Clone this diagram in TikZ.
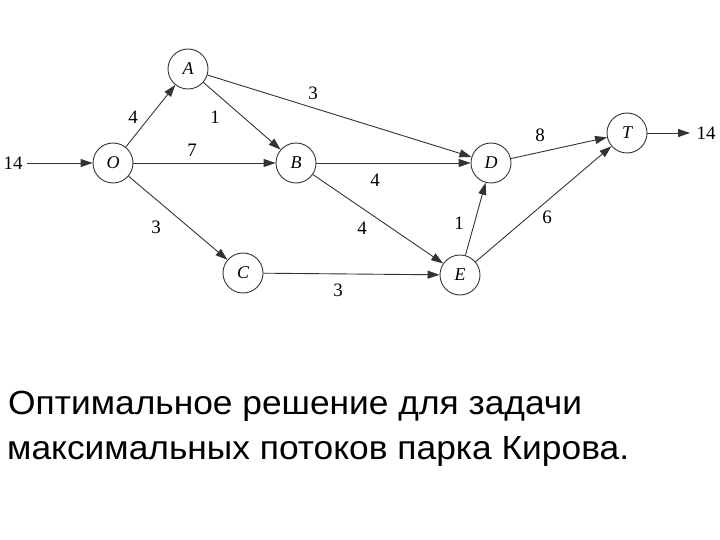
\documentclass[tikz,border=0pt]{standalone}
\usepackage{fontspec}
\setmainfont{Liberation Serif}
\newfontfamily\captionfont[FakeStretch=1.055]{Liberation Sans}
\usetikzlibrary{arrows.meta}
\begin{document}
\begin{tikzpicture}[x=1pt,y=-1pt,
  vertex/.style={circle,draw=black!80,line width=0.9pt,minimum size=40pt,inner sep=0pt,font=\fontsize{18}{18}\selectfont\itshape},
  edge/.style={draw=black!80,line width=0.9pt,-{Triangle[length=12pt,width=8pt]}},
  lab/.style={font=\fontsize{19}{19}\selectfont,inner sep=0pt},
  captext/.style={font=\captionfont\fontsize{33.5}{35}\selectfont,inner sep=0pt,anchor=base west}]
\useasboundingbox (0,0) rectangle (720,540);
\node[vertex] (O) at (113,163) {O};
\node[vertex] (A) at (188,69) {A};
\node[vertex] (B) at (296,163) {B};
\node[vertex] (C) at (243,273) {C};
\node[vertex] (D) at (491,163) {D};
\node[vertex] (E) at (460,275) {E};
\node[vertex] (T) at (627,133) {T};
\node[lab] (in) at (13,163) {14};
\node[lab] (out) at (706,133) {14};
\coordinate (inS) at (27,163);
\coordinate (outE) at (690,133);
\draw[edge] (inS) -- (O);
\draw[edge] (T) -- (outE);
\draw[edge] (O) -- (A);
\draw[edge] (O) -- (B);
\draw[edge] (O) -- (C);
\draw[edge] (A) -- (B);
\draw[edge] (A) -- (D);
\draw[edge] (B) -- (D);
\draw[edge] (B) -- (E);
\draw[edge] (C) -- (E);
\draw[edge] (E) -- (D);
\draw[edge] (E) -- (T);
\draw[edge] (D) -- (T);
\node[lab] (l1) at (133,117) {4};
\node[lab] (l2) at (215,117) {1};
\node[lab] (l3) at (313,93) {3};
\node[lab] (l4) at (192,150) {7};
\node[lab] (l5) at (156,227) {3};
\node[lab] (l6) at (375,180) {4};
\node[lab] (l7) at (362,228) {4};
\node[lab] (l8) at (459,223) {1};
\node[lab] (l9) at (547,217) {6};
\node[lab] (l10) at (540,135) {8};
\node[lab] (l11) at (338,290) {3};
\node[captext] (t1) at (8,414) {Оптимальное решение для задачи};
\node[captext] (t2) at (7,459) {максимальных потоков парка Кирова.};
\end{tikzpicture}
\end{document}
